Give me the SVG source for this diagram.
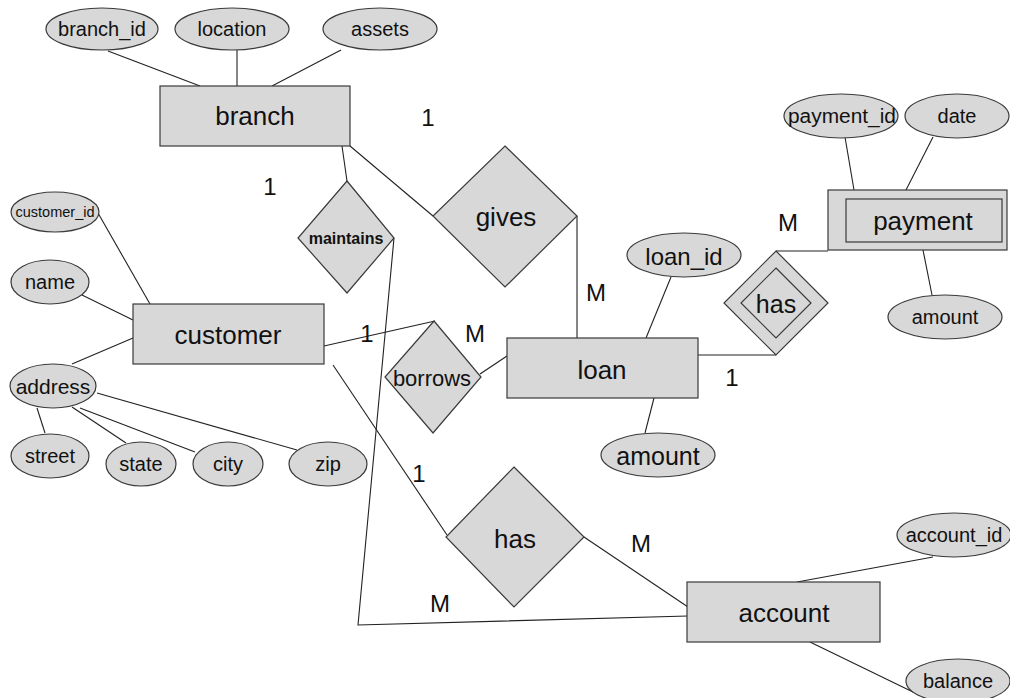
<svg xmlns="http://www.w3.org/2000/svg" width="1010" height="698" viewBox="0 0 1010 698">
<style>
.shape{fill:#d8d8d8;stroke:#3a3a3a;stroke-width:1.2}
.ln{stroke:#222;stroke-width:1.1;fill:none}
text{font-family:"Liberation Sans",Arial,sans-serif;fill:#111;text-anchor:middle;dominant-baseline:central}
.big{font-size:26px}
.attr{font-size:20px}
.card{font-size:24px}
</style>
<rect width="1010" height="698" fill="#fff"/>
<g id="connectors">
<line class="ln" x1="108" y1="51" x2="200" y2="86"/>
<line class="ln" x1="237" y1="50" x2="237" y2="86"/>
<line class="ln" x1="341" y1="50" x2="272" y2="86"/>
<line class="ln" x1="342" y1="146" x2="347" y2="181"/>
<line class="ln" x1="350" y1="146" x2="433" y2="216"/>
<polyline class="ln" points="577,216 577,338"/>
<line class="ln" x1="671" y1="277" x2="646" y2="338"/>
<line class="ln" x1="654" y1="398" x2="645" y2="433"/>
<polyline class="ln" points="698,355 776,355"/>
<polyline class="ln" points="776,251 828,251"/>
<line class="ln" x1="845" y1="137" x2="854" y2="190"/>
<line class="ln" x1="933" y1="137" x2="906" y2="190"/>
<line class="ln" x1="923" y1="250" x2="932" y2="295"/>
<line class="ln" x1="98" y1="213" x2="150" y2="304"/>
<line class="ln" x1="82" y1="295" x2="133" y2="320"/>
<line class="ln" x1="72" y1="364" x2="133" y2="338"/>
<line class="ln" x1="37" y1="408" x2="45" y2="433"/>
<line class="ln" x1="72" y1="407" x2="126" y2="443"/>
<line class="ln" x1="80" y1="408" x2="195" y2="452"/>
<line class="ln" x1="97" y1="393" x2="297" y2="450"/>
<line class="ln" x1="324" y1="346" x2="435" y2="321"/>
<line class="ln" x1="480" y1="374" x2="507" y2="356"/>
<polyline class="ln" points="394,238 358,625 688,616"/>
<line class="ln" x1="333" y1="365" x2="447" y2="535"/>
<line class="ln" x1="584" y1="537" x2="688" y2="607"/>
<line class="ln" x1="933" y1="557" x2="797" y2="582"/>
<line class="ln" x1="810" y1="642" x2="915" y2="693"/>
</g>
<g id="branch_id"><ellipse class="shape" cx="102" cy="29" rx="56" ry="21"/><text class="attr" x="102" y="29">branch_id</text></g>
<g id="location"><ellipse class="shape" cx="232" cy="29" rx="57" ry="21"/><text class="attr" x="232" y="29">location</text></g>
<g id="assets"><ellipse class="shape" cx="380" cy="29" rx="57" ry="21"/><text class="attr" x="380" y="29">assets</text></g>
<g id="branch"><rect class="shape" x="160" y="86" width="190" height="60"/><text class="big" x="255" y="116">branch</text></g>
<g id="maintains"><polygon class="shape" points="347,181 394,238 347,293 298,238"/><text x="346" y="238" style="font-size:16px;font-weight:bold">maintains</text></g>
<g id="gives"><polygon class="shape" points="505,146 577,216 505,287 433,216"/><text class="big" x="506" y="217">gives</text></g>
<g id="loan"><rect class="shape" x="507" y="338" width="191" height="60"/><text class="big" x="602" y="370">loan</text></g>
<g id="loan_id"><ellipse class="shape" cx="684" cy="255" rx="57" ry="22"/><text x="684" y="256" style="font-size:24px">loan_id</text></g>
<g id="loan_amount"><ellipse class="shape" cx="658" cy="455" rx="57" ry="22"/><text x="658" y="456" style="font-size:25px">amount</text></g>
<g id="has_payment"><polygon class="shape" points="776,251 828,303 776,355 724,303"/><polygon class="shape" points="776,268 811,303 776,338 741,303"/><text x="776" y="304" style="font-size:25px">has</text></g>
<g id="payment"><rect class="shape" x="828" y="190" width="179" height="60"/><rect class="shape" x="846" y="199" width="156" height="43"/><text class="big" x="923" y="221">payment</text></g>
<g id="payment_id"><ellipse class="shape" cx="841" cy="116" rx="57" ry="22"/><text class="attr" x="842" y="116" textLength="108" lengthAdjust="spacingAndGlyphs">payment_id</text></g>
<g id="date"><ellipse class="shape" cx="957" cy="116" rx="52" ry="22"/><text class="attr" x="957" y="116">date</text></g>
<g id="payment_amount"><ellipse class="shape" cx="945" cy="317" rx="57" ry="22"/><text class="attr" x="945" y="317">amount</text></g>
<g id="customer_id"><ellipse class="shape" cx="55" cy="212" rx="44" ry="20"/><text x="55" y="212" style="font-size:14.5px">customer_id</text></g>
<g id="name"><ellipse class="shape" cx="50" cy="282" rx="39" ry="22"/><text class="attr" x="50" y="282">name</text></g>
<g id="customer"><rect class="shape" x="133" y="304" width="191" height="60"/><text class="big" x="228" y="335">customer</text></g>
<g id="address"><ellipse class="shape" cx="53" cy="386" rx="43" ry="22"/><text x="53" y="386" style="font-size:21px">address</text></g>
<g id="street"><ellipse class="shape" cx="50" cy="456" rx="39" ry="22"/><text class="attr" x="50" y="456">street</text></g>
<g id="state"><ellipse class="shape" cx="141" cy="464" rx="35" ry="22"/><text class="attr" x="141" y="464">state</text></g>
<g id="city"><ellipse class="shape" cx="228" cy="464" rx="35" ry="22"/><text class="attr" x="228" y="464">city</text></g>
<g id="zip"><ellipse class="shape" cx="328" cy="464" rx="39" ry="22"/><text class="attr" x="328" y="464">zip</text></g>
<g id="borrows"><polygon class="shape" points="434,321 481,377 433,433 385,377"/><text x="432" y="378" style="font-size:22px">borrows</text></g>
<g id="has_account"><polygon class="shape" points="514,467 584,537 514,607 446,537"/><text class="big" x="515" y="539">has</text></g>
<g id="account"><rect class="shape" x="687" y="582" width="193" height="60"/><text class="big" x="784" y="613">account</text></g>
<g id="account_id"><ellipse class="shape" cx="954" cy="535" rx="57" ry="22"/><text class="attr" x="954" y="535">account_id</text></g>
<g id="balance"><ellipse class="shape" cx="958" cy="681" rx="52" ry="22"/><text class="attr" x="958" y="681">balance</text></g>
<g id="cardinalities">
<text class="card" x="428" y="117">1</text>
<text class="card" x="270" y="186">1</text>
<text class="card" x="596" y="292">M</text>
<text class="card" x="367" y="333">1</text>
<text class="card" x="475" y="333">M</text>
<text class="card" x="732" y="377">1</text>
<text class="card" x="788" y="222">M</text>
<text class="card" x="419" y="473">1</text>
<text class="card" x="641" y="543">M</text>
<text class="card" x="440" y="603">M</text>
</g>
</svg>
